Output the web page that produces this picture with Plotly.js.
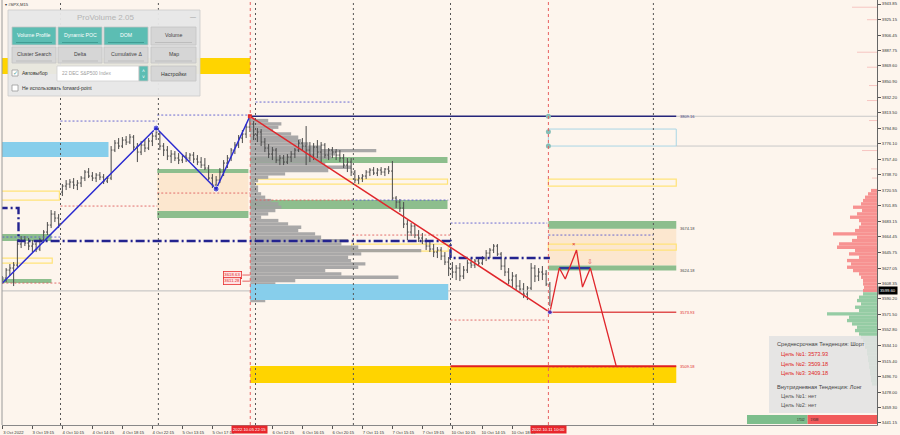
<!DOCTYPE html>
<html><head><meta charset="utf-8">
<script src="https://cdn.plot.ly/plotly-3.0.1.min.js"></script>
<style>html,body{margin:0;padding:0;background:#FDF5ED;}</style>
</head><body>
<div id="chart" style="width:900px;height:435px"></div>
<script>
// ---------------- DATA ----------------
const timeLabelIdx = [0,8,16,24,32,40,48,56,72,80,88,96,104,112,120,128,136];
const timeLabels = ["3 Oct 2022","3 Oct 19:15","4 Oct 10:15","4 Oct 14:15","4 Oct 18:15","4 Oct 22:15","5 Oct 13:15","5 Oct 17:15","6 Oct 12:15","6 Oct 16:15","6 Oct 20:15","7 Oct 11:15","7 Oct 15:15","7 Oct 19:15","10 Oct 10:15","10 Oct 14:15","10 Oct 18:15"];
const markedTimes = [[66,"2022.10.05 22:15"],[145.6,"2022.10.11 10:00"]];
const priceTicks = ["3943.85","3925.15","3906.45","3887.75","3869.60","3850.90","3832.20","3813.50","3794.80","3776.10","3757.40","3738.70","3720.55","3701.85","3683.15","3664.45","3645.75","3627.05","3608.35","3590.20","3571.50","3552.80","3534.10","3515.40","3496.70","3478.00","3459.30","3441.15"];
const lastPrice = 3599.60;

const open = [3612.6,3615.0,3624.6,3627.0,3630.6,3655.8,3660.6,3657.0,3653.4,3655.8,
3649.8,3660.6,3670.2,3678.6,3691.8,3687.0,3718.2,3725.4,3727.8,3730.2,
3726.6,3729.0,3735.0,3742.2,3737.4,3735.0,3738.6,3736.2,3731.4,3735.0,
3768.6,3777.0,3773.4,3780.6,3778.2,3784.2,3772.2,3766.2,3774.6,3771.0,
3779.4,3785.4,3787.8,3773.4,3768.6,3761.4,3763.8,3759.0,3756.6,3761.4,
3759.0,3762.6,3757.8,3754.2,3750.6,3747.0,3735.0,3726.6,3732.6,3742.2,
3753.0,3759.0,3768.6,3774.6,3783.0,3787.8,3796.2,3799.8,3786.6,3790.2,
3778.2,3771.0,3763.8,3768.6,3756.6,3759.0,3754.2,3760.2,3763.8,3768.6,
3777.0,3773.4,3768.6,3762.6,3772.2,3766.2,3774.6,3762.6,3768.6,3766.2,
3762.6,3759.0,3750.6,3754.2,3742.2,3732.6,3735.0,3737.4,3742.2,3744.6,
3741.0,3744.6,3742.2,3745.8,3743.4,3711.0,3706.2,3699.0,3679.8,3670.2,
3677.4,3666.6,3663.0,3659.4,3653.4,3649.8,3646.2,3648.6,3641.4,3634.2,
3627.0,3622.2,3627.0,3617.4,3624.6,3633.0,3630.6,3635.4,3633.0,3639.0,
3645.0,3648.6,3653.4,3643.8,3629.4,3622.2,3612.6,3617.4,3605.4,3601.8,
3595.8,3603.0,3627.0,3617.4,3622.2,3619.8,3607.8];
const high = [3617.4,3627.0,3631.8,3634.2,3660.6,3665.4,3665.4,3663.0,3660.6,3658.2,
3663.0,3672.6,3682.2,3696.6,3695.4,3691.8,3727.8,3732.6,3733.8,3735.0,
3732.6,3737.4,3744.6,3747.0,3742.2,3741.0,3742.2,3739.8,3737.4,3773.4,
3780.6,3783.0,3784.2,3785.4,3787.8,3786.6,3777.0,3779.4,3781.8,3783.0,
3789.0,3795.0,3790.2,3777.0,3773.4,3768.6,3767.4,3765.0,3763.8,3766.2,
3765.0,3766.2,3762.6,3760.2,3759.0,3750.6,3739.8,3737.4,3747.0,3756.6,
3762.6,3771.0,3778.2,3786.6,3792.6,3799.8,3809.16,3803.4,3795.0,3793.8,
3783.0,3775.8,3772.2,3771.0,3762.6,3762.6,3763.8,3767.4,3771.0,3780.6,
3783.0,3797.4,3778.2,3777.0,3780.6,3778.2,3777.0,3771.0,3772.2,3769.8,
3768.6,3763.8,3759.0,3759.0,3744.6,3738.6,3739.8,3744.6,3747.0,3748.2,
3747.0,3748.2,3747.0,3749.4,3755.4,3713.4,3709.8,3706.2,3684.6,3681.0,
3679.8,3672.6,3669.0,3663.0,3660.6,3655.8,3652.2,3652.2,3646.2,3640.2,
3634.2,3630.6,3633.0,3629.4,3636.6,3639.0,3637.8,3640.2,3641.4,3648.6,
3651.0,3655.8,3655.8,3646.2,3639.0,3627.0,3622.2,3619.8,3612.6,3609.0,
3605.4,3633.0,3630.6,3627.0,3629.4,3624.6,3610.2];
const low = [3607.8,3610.2,3617.4,3605.4,3627.0,3651.0,3653.4,3648.6,3646.2,3646.2,
3647.4,3657.0,3666.6,3675.0,3682.2,3675.0,3713.4,3720.6,3723.0,3721.8,
3720.6,3724.2,3731.4,3735.0,3731.4,3730.2,3732.6,3727.8,3729.0,3732.6,
3766.2,3769.8,3771.0,3774.6,3775.8,3768.6,3754.2,3762.6,3766.2,3768.6,
3773.4,3780.6,3768.6,3761.4,3756.6,3753.0,3755.4,3751.8,3753.0,3754.2,
3755.4,3753.0,3750.6,3747.0,3744.6,3732.6,3723.0,3721.8,3729.0,3737.4,
3747.0,3755.4,3763.8,3771.0,3777.0,3783.0,3790.2,3780.6,3778.2,3773.4,
3766.2,3759.0,3756.6,3753.0,3750.6,3750.6,3751.8,3754.2,3759.0,3766.2,
3768.6,3750.6,3754.2,3756.6,3759.0,3754.2,3759.0,3756.6,3759.0,3756.6,
3754.2,3747.0,3742.2,3737.4,3729.0,3727.8,3730.2,3733.8,3737.4,3738.6,
3737.4,3738.6,3737.4,3739.8,3708.6,3699.0,3694.2,3675.0,3660.6,3665.4,
3663.0,3658.2,3655.8,3648.6,3646.2,3640.2,3639.0,3636.6,3630.6,3617.4,
3615.0,3612.6,3611.4,3613.8,3621.0,3627.0,3627.0,3629.4,3630.6,3635.4,
3639.0,3645.0,3641.4,3624.6,3617.4,3607.8,3604.2,3600.6,3598.2,3591.0,
3588.6,3600.6,3610.2,3611.4,3612.6,3605.4,3581.4];
const close = [3615.0,3624.6,3627.0,3630.6,3655.8,3660.6,3657.0,3653.4,3655.8,3649.8,
3660.6,3670.2,3678.6,3691.8,3687.0,3679.8,3725.4,3727.8,3730.2,3726.6,
3729.0,3735.0,3742.2,3737.4,3735.0,3738.6,3736.2,3731.4,3735.0,3768.6,
3777.0,3773.4,3780.6,3778.2,3784.2,3772.2,3766.2,3774.6,3771.0,3779.4,
3785.4,3790.2,3773.4,3768.6,3761.4,3763.8,3759.0,3756.6,3761.4,3759.0,
3762.6,3757.8,3754.2,3750.6,3747.0,3735.0,3726.6,3732.6,3742.2,3753.0,
3759.0,3768.6,3774.6,3783.0,3787.8,3796.2,3799.8,3786.6,3790.2,3778.2,
3771.0,3763.8,3768.6,3756.6,3759.0,3754.2,3760.2,3763.8,3768.6,3777.0,
3773.4,3768.6,3762.6,3772.2,3766.2,3774.6,3762.6,3768.6,3766.2,3762.6,
3759.0,3750.6,3754.2,3742.2,3732.6,3735.0,3737.4,3742.2,3744.6,3741.0,
3744.6,3742.2,3745.8,3743.4,3711.0,3706.2,3699.0,3679.8,3670.2,3677.4,
3666.6,3663.0,3659.4,3653.4,3649.8,3646.2,3648.6,3641.4,3634.2,3627.0,
3622.2,3627.0,3617.4,3624.6,3633.0,3630.6,3635.4,3633.0,3639.0,3645.0,
3648.6,3653.4,3643.8,3629.4,3622.2,3612.6,3617.4,3605.4,3601.8,3595.8,
3603.0,3627.0,3617.4,3622.2,3619.8,3607.8,3599.6];

// volume profile (from session start, lengths in time-axis bar units)
const profileStart = 66.1;
const profileLevels = [3808,3804,3800,3796,3792,3788,3784,3780,3776,3772,3768,3764,3760,3756,3752,3748,3744,3740,3736,3732,3728,3724,3720,3716,3712,3708,3704,3700,3696,3692,3688,3684,3680,3676,3672,3668,3664,3660,3656,3652,3648,3644,3640,3636,3632,3628,3624,3620,3616,3612,3608,3604,3600,3596,3592,3588];
const profileLen = [0.3,4.8,8.3,7.5,6.1,10.9,12.8,13.6,15.5,18.9,33.6,22.7,21.6,18.9,20.0,26.9,20.8,9.3,4.8,2.1,1.3,2.1,2.1,2.9,4.0,5.6,7.5,8.3,6.7,4.8,2.9,7.5,10.1,13.6,12.8,17.3,18.9,26.1,24.3,28.8,45.6,29.6,26.1,26.9,30.7,28.8,20.0,24.3,39.5,12.0,6.7,10.7,9.3,8.0,6.7,4.0];

// DOM (depth) histogram at right edge
const domAskLevels = [3720,3716,3712,3708,3704,3700,3696,3692,3688,3684,3680,3676,3672,3668,3664,3660,3656,3652,3648,3644,3640,3636,3632,3628,3624,3620,3616,3612,3608,3604,3600];
const domAsk = [6,9,12,14,16,24,15,20,27,18,16,18,22,44,20,25,38,40,22,28,18,30,26,30,24,18,16,14,14,13,14];
const domBidLevels = [3596,3592,3588,3584,3580,3576,3572,3568,3564,3560,3556,3552,3548,3544,3540,3536,3532,3528,3524,3520,3516,3512,3508,3504,3500,3496,3492,3488];
const domBid = [14,18,20,16,22,18,50,28,30,25,20,22,18,16,14,12,12,10,10,9,9,8,8,7,7,6,6,5];
const domThinLevels = [3940,3925,3886,3868,3846,3828,3804,3768,3746,3735];
const domThin = [25,10,20,10,8,10,8,15,6,5];
const buyVolume = 17102, sellVolume = 19588;

// zigzags and levels
const zzBlueX = [0,41,57,66], zzBlueY = [3609.0,3795.0,3721.8,3809.16];
const zzRedX = [66,146], zzRedY = [3809.16,3573.93];
const projX = [146,148.5,150.1,153.1,154.7,156.8,163.7];
const projY = [3573.93,3627.0,3613.8,3648.6,3604.2,3627.0,3509.18];
const topLevel = 3809.16;
const targets = [3573.93, 3509.18, 3409.18];
const zoneLabels = [[3809.16,"3809.16","#3a3a7a"],[3674.18,"3674.18","#444"],[3624.18,"3624.18","#444"],[3573.93,"3573.93","#e02828"],[3509.18,"3509.18","#e02828"]];
const pocStepX = [-1,4.3,4.3,119.5,119.5,146];
const pocStepY = [3699.0,3699.0,3659.4,3659.4,3639.0,3639.0];
const sessionBreaks = [15.5,41.6,67.5,93.6,119.5,173.6];
const markedBars = [66.1,145.6];
const blueDaySegs = [[0,15.5,3664.2],[15.5,41.3,3803.4],[41.3,66.1,3810.6],[67.5,93.3,3826.2],[93.1,118.9,3708.6],[119.5,145.3,3681.0],[145.6,173.6,3666.6]];
const redDaySegs = [[0,15.5,3609.0],[15.5,41.3,3701.4],[41.3,66.1,3717.0],[67.5,93.3,3708.6],[93.3,119.5,3666.6],[119.5,145.3,3564.6],[145.6,173.6,3508.2]];
// zones: [x0, x1, priceTop, priceBottom]
const goldZones = [[-1,66.1,3879.0,3859.8],[66.1,179.7,3509.4,3489.0]];
const blueZones = [[-1,28.3,3778.2,3760.2]];
const blueZonesTop = [[66.1,118.9,3607.8,3588.6]];
const greenZones = [[41.3,65.6,3745.8,3741.0],[41.3,65.6,3695.4,3687.0],[-1,13.1,3667.8,3659.4],[-1,13.1,3613.8,3609.0],[66.1,118.7,3760.2,3753.0],[66.1,118.7,3708.6,3697.8],[145.6,179.7,3683.4,3674.18],[145.6,179.7,3630.0,3624.18]];
const peachZones = [[41.3,65.6,3741.0,3695.4],[145.6,179.7,3674.18,3630.0]];
const yellowBoxes = [[-1,15.2,3719.4,3708.6],[-1,13.3,3639.0,3633.0],[66.9,118.7,3733.8,3727.8],[93.1,118.9,3655.8,3647.4],[145.6,179.7,3733.8,3725.4],[145.6,179.7,3655.8,3648.6]];
const cyanBoxes = [[145.6,179.7,3793.8,3773.4]];
const redTags = [[3618.63,"3618.63"],[3611.28,"3611.28"]];

// ---------------- BUILD ----------------
const FONT = "Liberation Sans, Arial, sans-serif";
const XR = [-0.1, 233.23];
const PX = x => (x - 2) / 875, PY = y => 1 - y / 425;
const shapes = [], ann = [];
function zone(z, fill, line, lw, layer){ shapes.push({type:'rect',xref:'x',yref:'y',x0:z[0],x1:z[1],y0:z[3],y1:z[2],fillcolor:fill,line:{color:line||'rgba(0,0,0,0)',width:lw||0},layer:layer||'below'}); }
goldZones.forEach(z=>zone(z,'#FFD400'));
blueZones.forEach(z=>zone(z,'#87CEEB'));
peachZones.forEach(z=>zone(z,'#FCE7CF'));
greenZones.forEach(z=>zone(z,'#8DBE8D'));
yellowBoxes.forEach(z=>zone(z,'rgba(0,0,0,0)','#FFE37A',1.2));
cyanBoxes.forEach(z=>zone(z,'rgba(0,0,0,0)','#A9D6E5',1));
blueZonesTop.forEach(z=>zone(z,'#87CEEB',null,0,'above'));
sessionBreaks.forEach(b=>shapes.push({type:'line',xref:'x',yref:'paper',x0:b,x1:b,y0:0,y1:1,line:{color:'#555',width:1,dash:'2px,3px'},layer:'above'}));
markedBars.forEach(b=>shapes.push({type:'line',xref:'x',yref:'paper',x0:b,x1:b,y0:0,y1:1,line:{color:'#E86060',width:1,dash:'3px,3px'},layer:'above'}));
// left border
shapes.push({type:'line',xref:'paper',yref:'paper',x0:0,x1:0,y0:0,y1:1,line:{color:'#9a9a9a',width:1},layer:'above'});

function pRect(x0,y0,x1,y1,fill,line){ shapes.push({type:'rect',xref:'paper',yref:'paper',x0:PX(x0),x1:PX(x1),y0:PY(y1),y1:PY(y0),fillcolor:fill,line:{color:line||'rgba(0,0,0,0)',width:line?0.8:0},layer:'above'}); }
function pText(x,y,text,size,color,xanchor,extra){ ann.push(Object.assign({xref:'paper',yref:'paper',x:PX(x),y:PY(y),text:text,showarrow:false,xanchor:xanchor||'center',yanchor:'middle',font:{family:FONT,size:size,color:color}},extra||{})); }

// info box (bottom right)
pRect(769,336,877,413,'rgba(226,226,226,0.88)');
pText(775,344,'Среднесрочная Тенденция: Шорт',5.6,'#444','left');
pText(779,354,'Цель №1: '+targets[0].toFixed(2),5.6,'#E02828','left');
pText(779,364,'Цель №2: '+targets[1].toFixed(2),5.6,'#E02828','left');
pText(779,373,'Цель №3: '+targets[2].toFixed(2),5.6,'#E02828','left');
pText(775,387,'Внутридневная Тенденция: Лонг',5.6,'#444','left');
pText(779,396,'Цель №1: нет',5.6,'#555','left');
pText(779,405,'Цель №2: нет',5.6,'#555','left');

// ProVolume panel
pRect(8,10,200,96,'rgba(231,231,231,0.96)','#CACACA');
const teal = '#5CBDB3', grey = '#D6D6D6';
const btnCols = [[12,56],[58,102],[104,148],[151,196]];
const row1 = [['Volume Profile',teal,'#fff'],['Dynamic POC',teal,'#fff'],['DOM',teal,'#fff'],['Volume',grey,'#444']];
const row2 = [['Cluster Search',grey,'#444'],['Delta',grey,'#444'],['Cumulative Δ',grey,'#444'],['Map',grey,'#444']];
row1.forEach((b,i)=>{ pRect(btnCols[i][0],27,btnCols[i][1],45,b[1],'#C4C4C4'); pRect(btnCols[i][0]+4,42,btnCols[i][1]-4,43,b[1]===teal?'#3F9C93':'#BDBDBD'); pText((btnCols[i][0]+btnCols[i][1])/2,35.5,b[0],5.2,b[2]); });
row2.forEach((b,i)=>{ pRect(btnCols[i][0],47,btnCols[i][1],63,b[1],'#C4C4C4'); pRect(btnCols[i][0]+4,60.5,btnCols[i][1]-4,61.5,'#BDBDBD'); pText((btnCols[i][0]+btnCols[i][1])/2,54.5,b[0],5.2,'#444'); });
pRect(12,70,18,76,'#fff','#999');
pText(15.5,72.5,'✓',6,'#4a9e96');
pText(20,73,'Автовыбор',5,'#333','left');
pRect(57,66,139,81,'#fff','#CFCFCF');
pText(60,74,'22 DEC S&P500 Index',4.8,'#A0A0A0','left');
pRect(139,66,148,81,teal,'#C4C4C4');
pText(143.5,71,'˄',5,'#fff'); pText(143.5,77,'˅',5,'#fff');
pRect(151,66,196,81,grey,'#C4C4C4');
pText(173.5,74,'Настройки',5.2,'#333');
pRect(12,85,18,91,'#fff','#999');
pText(20,88,'Не использовать forward-point',5,'#333','left');
pText(105,17,'ProVolume 2.05',8,'#B4B4B4');
pText(193,17,'—',6,'#888');
pText(3,5,'▾ #SPX,M15',4.2,'#333','left');

// marked time boxes on x-axis
markedTimes.forEach(m=>ann.push({xref:'x',yref:'paper',x:m[0],y:PY(429.5),text:m[1],showarrow:false,xanchor:'center',yanchor:'middle',bgcolor:'#E8262B',borderpad:1,font:{family:FONT,size:4.2,color:'#fff'}}));
// right zone labels
zoneLabels.forEach(z=>ann.push({xref:'x',yref:'y',x:180.2,y:z[0],text:z[1],showarrow:false,xanchor:'left',yanchor:'middle',font:{family:FONT,size:4,color:z[2]}}));
// red price tags
redTags.forEach(t=>ann.push({xref:'x',yref:'y',x:61.3,y:t[0],text:t[1],showarrow:false,xanchor:'center',yanchor:'middle',bgcolor:'rgba(255,225,225,0.9)',bordercolor:'#E83030',borderwidth:0.8,borderpad:0.5,font:{family:FONT,size:4.3,color:'#E02828'}}));
// last price tag
ann.push({xref:'paper',yref:'y',x:1,xshift:1,y:lastPrice,text:lastPrice.toFixed(2),showarrow:false,xanchor:'left',yanchor:'middle',bgcolor:'#000',borderpad:1,font:{family:FONT,size:4.2,color:'#fff'}});
// projection markers
ann.push({xref:'x',yref:'y',x:152.3,y:3655.8,text:'×',showarrow:false,font:{family:FONT,size:6,color:'#E02828'}});
ann.push({xref:'x',yref:'y',x:156.6,y:3635.0,text:'⇩',showarrow:false,font:{family:FONT,size:7,color:'#E05050'}});

const idx = close.map((_,i)=>i);
function segTrace(segs,color,dash,width){ const x=[],y=[]; segs.forEach(s=>{x.push(s[0],s[1],null);y.push(s[2],s[2],null);}); return {type:'scatter',mode:'lines',x:x,y:y,line:{color:color,width:width,dash:dash},hoverinfo:'skip',showlegend:false}; }

const traces = [
 {type:'bar',orientation:'h',y:profileLevels,x:profileLen,base:profileStart,width:4,marker:{color:'rgba(160,160,160,0.9)',line:{width:0}},hoverinfo:'skip',showlegend:false},
 segTrace(blueDaySegs,'#5A5ACF','2px,2px',0.9),
 segTrace(redDaySegs,'#E06060','2px,2px',0.9),
 {type:'scatter',mode:'lines',x:XR,y:[lastPrice,lastPrice],line:{color:'#BDBDBD',width:1},hoverinfo:'skip',showlegend:false},
 {type:'scatter',mode:'lines',x:[179.7,XR[1]],y:[topLevel,topLevel],line:{color:'#C8C8C8',width:1},hoverinfo:'skip',showlegend:false},
 {type:'scatter',mode:'lines',x:[179.7,XR[1]],y:[cyanBoxes[0][3],cyanBoxes[0][3]],line:{color:'#C8C8C8',width:1},hoverinfo:'skip',showlegend:false},
 {type:'ohlc',x:idx,open:open,high:high,low:low,close:close,tickwidth:0.35,increasing:{line:{color:'#4A4A4A',width:1}},decreasing:{line:{color:'#4A4A4A',width:1}},hoverinfo:'skip',showlegend:false},
 {type:'scatter',mode:'lines',x:pocStepX,y:pocStepY,line:{color:'#23238F',width:2.4,dash:'9px,3px,2px,3px'},hoverinfo:'skip',showlegend:false},
 {type:'scatter',mode:'lines',x:[66,179.7],y:[topLevel,topLevel],line:{color:'#25257A',width:1.4},hoverinfo:'skip',showlegend:false},
 {type:'scatter',mode:'lines',x:[146,179.7],y:[targets[0],targets[0]],line:{color:'#E05050',width:1.4},hoverinfo:'skip',showlegend:false},
 {type:'scatter',mode:'lines',x:[119.5,179.7],y:[targets[1],targets[1]],line:{color:'#E02020',width:2},hoverinfo:'skip',showlegend:false},
 {type:'scatter',mode:'lines',x:[148.5,156.8],y:[3627.0,3627.0],line:{color:'#2A3A9A',width:2.4},hoverinfo:'skip',showlegend:false},
 segTrace([[64,66,3618.63],[64,66,3611.28]],'#E04040','solid',0.8),
 {type:'scatter',mode:'lines',x:zzBlueX,y:zzBlueY,line:{color:'#2B2BD0',width:1.5},hoverinfo:'skip',showlegend:false},
 {type:'scatter',mode:'lines',x:zzRedX,y:zzRedY,line:{color:'#E0262B',width:1.5},hoverinfo:'skip',showlegend:false},
 {type:'scatter',mode:'lines',x:projX,y:projY,line:{color:'#E0262B',width:1.3},hoverinfo:'skip',showlegend:false},
 {type:'scatter',mode:'markers',x:[zzBlueX[1],zzBlueX[2],zzRedX[1]],y:[zzBlueY[1],zzBlueY[2],zzRedY[1]],marker:{color:'#2020D0',size:[6,6,5]},hoverinfo:'skip',showlegend:false},
 {type:'scatter',mode:'markers',x:[66],y:[topLevel],marker:{color:'#E02828',size:4,symbol:'square'},hoverinfo:'skip',showlegend:false},
 {type:'scatter',mode:'markers',x:[145.6,145.6,145.6],y:[topLevel,3790.6,cyanBoxes[0][3]],marker:{color:'#86BDB6',size:5},hoverinfo:'skip',showlegend:false},
 {type:'bar',orientation:'h',xaxis:'x2',yaxis:'y',y:domThinLevels,x:domThin,width:1.2,marker:{color:'rgba(240,140,140,0.45)'},hoverinfo:'skip',showlegend:false},
 {type:'bar',orientation:'h',xaxis:'x2',yaxis:'y',y:domAskLevels,x:domAsk,width:4,marker:{color:'rgba(246,128,128,0.85)',line:{width:0}},hoverinfo:'skip',showlegend:false},
 {type:'bar',orientation:'h',xaxis:'x2',yaxis:'y',y:domBidLevels,x:domBid,width:4,marker:{color:'rgba(130,196,150,0.85)',line:{width:0}},hoverinfo:'skip',showlegend:false},
 {type:'bar',orientation:'h',xaxis:'x3',yaxis:'y2',y:[0],x:[buyVolume],base:0,width:1,marker:{color:'#7DBE8C'},text:[String(buyVolume)],textposition:'inside',insidetextanchor:'end',textfont:{family:FONT,size:5.5,color:'#222'},hoverinfo:'skip',showlegend:false},
 {type:'bar',orientation:'h',xaxis:'x3',yaxis:'y2',y:[0],x:[sellVolume],base:buyVolume,width:1,marker:{color:'#F25A5A'},text:[String(sellVolume)],textposition:'inside',insidetextanchor:'start',textfont:{family:FONT,size:5.5,color:'#222'},hoverinfo:'skip',showlegend:false}
];

const layout = {
 width:900, height:435, margin:{l:2,r:23,t:0,b:10},
 paper_bgcolor:'#FDF5ED', plot_bgcolor:'#FDF5ED', showlegend:false, barmode:'overlay',
 font:{family:FONT,size:4.2,color:'#333'},
 xaxis:{range:XR,tickvals:timeLabelIdx,ticktext:timeLabels,ticks:'outside',ticklen:3,tickcolor:'#555',tickfont:{size:4.2,color:'#333'},ticklabelshift:11,ticklabelstandoff:0,showgrid:false,zeroline:false,showline:true,linecolor:'#888',rangeslider:{visible:false},fixedrange:true},
 yaxis:{range:[3438.69,3948.65],side:'right',tickvals:priceTicks.map(Number),ticktext:priceTicks,ticks:'outside',ticklen:3,tickcolor:'#555',tickfont:{size:4.2,color:'#333'},showgrid:false,zeroline:false,showline:true,linecolor:'#666',fixedrange:true},
 xaxis2:{overlaying:'x',anchor:'y',range:[875,0],visible:false,fixedrange:true},
 xaxis3:{anchor:'y2',domain:[PX(747),1],range:[0,buyVolume+sellVolume],visible:false,fixedrange:true},
 yaxis2:{anchor:'x3',domain:[PY(424),PY(415)],range:[-0.5,0.5],visible:false,fixedrange:true},
 shapes:shapes, annotations:ann
};
Plotly.newPlot('chart',traces,layout,{staticPlot:true,displayModeBar:false});
</script>
</body></html>
